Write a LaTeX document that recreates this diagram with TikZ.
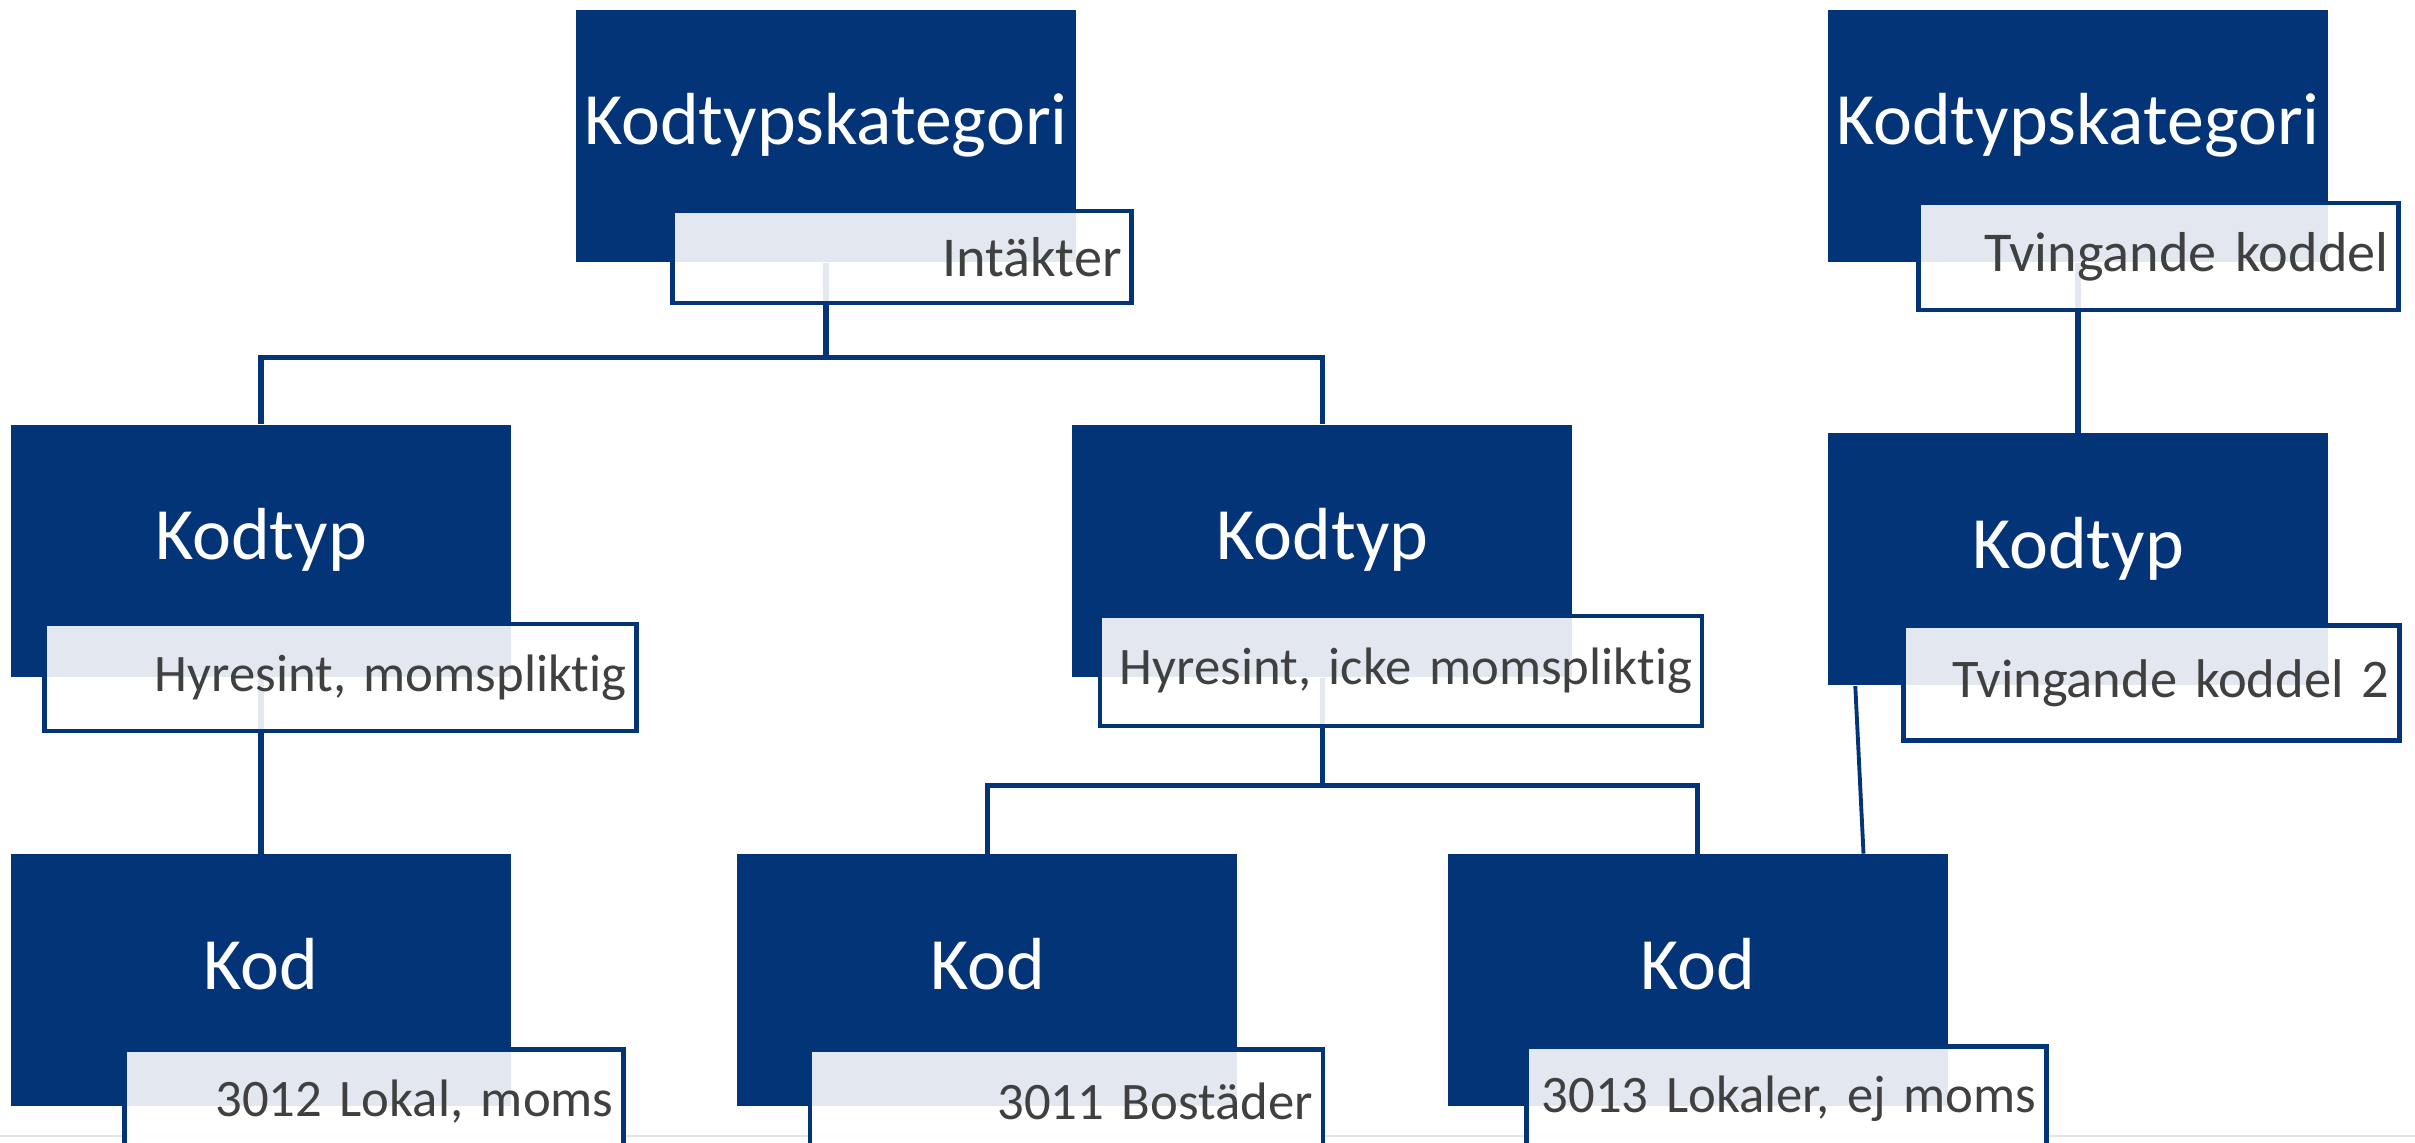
\documentclass[tikz,border=0pt]{standalone}
\usepackage{fontspec}
\setmainfont{Carlito}[Ligatures=NoCommon]
\usepackage{tikz}
\usetikzlibrary{positioning}
\definecolor{navy}{RGB}{3,52,120}
\definecolor{textgray}{RGB}{64,64,64}
\tikzstyle{category} = [rectangle, minimum width=5cm, minimum height=2.52cm, inner sep=0pt, fill=navy, text=white, font=\fontsize{21}{25}\selectfont, text height=0.6cm, text depth=0.42cm]
\tikzstyle{caption} = [rectangle, anchor=north west, minimum height=1.07cm, inner xsep=0.1cm, inner ysep=0pt, draw=navy, line width=1.3pt, fill=white, fill opacity=0.89, text opacity=1, text=textgray, align=right, font=\fontsize{15}{18}\selectfont]
\tikzstyle{connector} = [draw=navy, line width=1.5pt]

\begin{document}
\begin{tikzpicture}[node distance=1.76cm and 5.6cm]
\useasboundingbox (0,0) rectangle (24.15,11.43);
\draw [gray!20, line width=0.6pt] (0,0.07) -- (24.15,0.07);
% Row 1
\node (katA) [category] at (8.26,10.07) {Kodtypskategori};
\node (katB) [category] at (20.78,10.07) {Kodtypskategori};
% Row 2
\node (typA) [category] at (2.61,5.92) {Kodtyp};
\node (typB) [category, right=of typA] {Kodtyp};
\node (typC) [category, below=1.7cm of katB] {Kodtyp};
% Row 3
\node (kodA) [category, below=of typA] {Kod};
\node (kodB) [category, right=2.25cm of kodA] {Kod};
\node (kodC) [category, right=2.09cm of kodB] {Kod};

% Lines
\draw [connector] (katA.south) -- ++(0,-0.95) coordinate (forkA);
\draw [connector] (forkA) -| (typA.north);
\draw [connector] (forkA) -| (typB.north);
\draw [connector] (typA.south) -- (kodA.north);
\draw [connector] (typB.south) -- ++(0,-1.08) coordinate (forkB);
\draw [connector] (forkB) -| (kodB.north);
\draw [connector] (forkB) -| (kodC.north);
\draw [connector] (katB.south) -- (typC.north);
\draw [connector, line width=1.1pt] ([xshift=0.28cm]typC.south west) -- ([xshift=-0.85cm]kodC.north east);

% Captions
\node (capA) [caption, text width=4.39cm, minimum height=0.92cm, font=\fontsize{16}{19}\selectfont] at ([shift={(0.95,0.54)}]katA.south west) {Intäkter};
\node (capB) [caption, text width=4.60cm, font=\fontsize{16}{19}\selectfont] at ([shift={(0.89,0.62)}]katB.south west) {Tvingande koddel};
\node (capC) [caption, text width=5.72cm] at ([shift={(0.32,0.56)}]typA.south west) {Hyresint, momspliktig};
\node (capD) [caption, text width=5.82cm, minimum height=1.1cm] at ([shift={(0.26,0.64)}]typB.south west) {Hyresint, icke momspliktig};
\node (capE) [caption, text width=4.76cm, minimum height=1.15cm, font=\fontsize{15.5}{18}\selectfont] at ([shift={(0.74,0.63)}]typC.south west) {Tvingande koddel 2};
\node (capF) [caption, text width=4.79cm, minimum height=1.05cm] at ([shift={(1.12,0.6)}]kodA.south west) {3012 Lokal, moms};
\node (capG) [caption, text width=4.93cm, minimum height=1.05cm] at ([shift={(0.71,0.6)}]kodB.south west) {3011 Bostäder};
\node (capH) [caption, text width=5.0cm, minimum height=1.05cm] at ([shift={(0.77,0.63)}]kodC.south west) {3013 Lokaler, ej moms};
\end{tikzpicture}
\end{document}
